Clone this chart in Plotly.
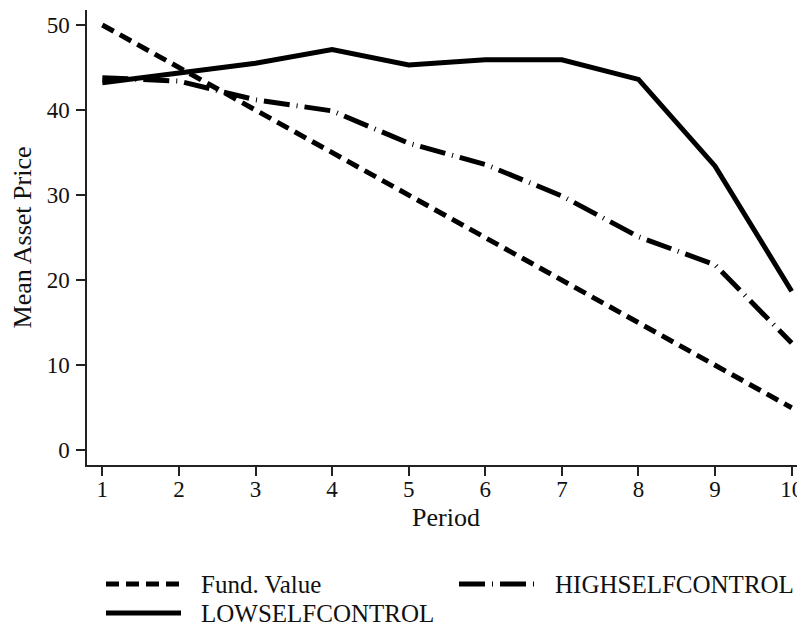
import plotly.graph_objects as go

periods = [1, 2, 3, 4, 5, 6, 7, 8, 9, 10]
fund_value = [50, 45, 40, 35, 30, 25, 20, 15, 10, 5]
high_self_control = [43.8, 43.4, 41.2, 39.9, 36.1, 33.6, 29.9, 25.1, 21.8, 12.6]
low_self_control = [43.2, 44.3, 45.5, 47.1, 45.3, 45.9, 45.9, 43.6, 33.4, 18.7]
series_names = ["Fund. Value", "HIGHSELFCONTROL", "LOWSELFCONTROL"]
x_ticks = periods
y_ticks = [0, 10, 20, 30, 40, 50]

FONT = "Liberation Serif, Times New Roman, serif"
# the page body has an 8px default margin; the figure is sized to fill the rest
OFF = 8
W, H = 805 - OFF, 626 - OFF
L, R, T, B = 87 - OFF, 0, 10 - OFF, 626 - 465
pw = W - L - R
ph = H - T - B

dashes = ["13px,7px", "26px,7px,1px,7px", "solid"]
values = [fund_value, high_self_control, low_self_control]

fig = go.Figure()
for name, ys, dash in zip(series_names, values, dashes):
    fig.add_trace(go.Scatter(
        x=periods, y=ys, mode="lines", name=name,
        line=dict(color="black", width=5, dash=dash),
        showlegend=False, cliponaxis=False,
    ))

axis_common = dict(
    showline=True, linecolor="#222", linewidth=1.5,
    ticks="outside", ticklen=9, tickwidth=1.5, tickcolor="#222",
    showgrid=False, zeroline=False, automargin=False,
    tickfont=dict(family=FONT, size=23, color="#111"),
)

fig.update_xaxes(
    range=[0.80, 10.174], tickvals=x_ticks, ticktext=[str(v) for v in x_ticks],
    title=dict(text="Period", font=dict(family=FONT, size=26, color="#111"), standoff=6),
    ticklabelstandoff=-6,
    **axis_common,
)
fig.update_yaxes(
    range=[-1.73, 51.76], tickvals=y_ticks, ticktext=[str(v) for v in y_ticks],
    title=dict(text="Mean Asset Price", font=dict(family=FONT, size=26, color="#111"), standoff=15),
    ticklabelstandoff=2,
    **axis_common,
)

def px_x(p):
    return (p - OFF - L) / pw
def px_y(p):
    return (H - B - (p - OFF)) / ph

# manual legend (two columns), in reference-page pixels
legend_items = [
    (106, 181, 584, 199),
    (459, 537, 584, 553),
    (106, 181, 613, 199),
]
for (x0, x1, yy, tx), name, dash in zip(legend_items, series_names, dashes):
    fig.add_shape(type="line", xref="paper", yref="paper",
                  x0=px_x(x0), x1=px_x(x1), y0=px_y(yy), y1=px_y(yy),
                  line=dict(color="black", width=5, dash=dash))
    fig.add_annotation(xref="paper", yref="paper", x=px_x(tx), y=px_y(yy),
                       text=name, showarrow=False, xanchor="left", yanchor="middle",
                       font=dict(family=FONT, size=25, color="#111"))

fig.update_layout(
    width=W, height=H,
    margin=dict(l=L, r=R, t=T, b=B, pad=0),
    paper_bgcolor="white", plot_bgcolor="white",
    showlegend=False,
)

fig.write_html("out.html")
